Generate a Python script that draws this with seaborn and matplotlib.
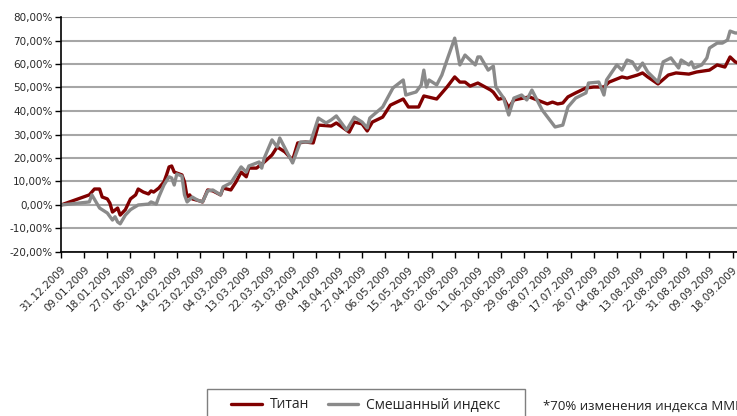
import pandas as pd
import matplotlib.pyplot as plt
import matplotlib.patches as mpatches
from matplotlib.ticker import FuncFormatter
import seaborn as sns

# days after 31.12.2008 and change in %
titan_days = [0, 11, 13, 15, 16, 18, 19, 20, 22, 23, 25, 27, 29, 30, 32, 34, 35, 36, 38, 40,
              41, 42, 43, 44, 46, 47, 48, 49, 50, 51, 54, 55, 57, 59, 62, 63, 66, 68, 70, 72,
              73, 76, 79, 82, 84, 87, 90, 92, 95, 98, 100, 105, 107, 112, 114, 117, 119, 121, 125, 128,
              133, 135, 139, 141, 146, 150, 153, 155, 157, 159, 162, 167, 168, 170, 172, 174, 176, 182, 185, 189,
              191, 193, 195, 197, 200, 204, 207, 211, 213, 218, 220, 224, 226, 228, 232, 236, 239, 244, 247, 252,
              255, 258, 260, 262, 263]
titan_vals = [0.0, 4.3, 6.8, 6.8, 3.4, 2.6, 0.8, -3.0, -1.3, -4.3, -2.0, 2.6, 4.3, 6.8, 5.5, 4.7, 6.0, 5.5, 7.2, 9.8,
              12.8, 16.2, 16.6, 14.0, 13.2, 12.8, 9.8, 3.4, 4.3, 2.6, 1.7, 1.3, 6.4, 6.0, 4.3, 7.2, 6.4, 9.8, 14.0, 12.0,
              15.7, 15.7, 18.3, 21.3, 24.7, 22.6, 19.1, 26.4, 26.8, 26.4, 34.0, 33.6, 34.9, 31.0, 35.3, 34.5, 31.5, 35.3, 37.4, 42.5,
              45.1, 41.7, 41.7, 46.4, 45.1, 50.2, 54.5, 52.3, 52.3, 50.6, 51.9, 48.9, 48.0, 45.0, 45.5, 41.3, 44.7, 46.0, 44.7, 43.0,
              43.8, 43.0, 43.4, 46.0, 47.7, 49.8, 50.2, 50.2, 52.3, 54.5, 54.0, 55.3, 56.2, 54.5, 51.5, 55.3, 56.2, 55.7, 56.6, 57.4,
              59.6, 58.7, 63.0, 60.9, 60.5]

index_days = [0, 11, 12, 15, 16, 18, 20, 21, 22, 23, 25, 27, 28, 30, 34, 35, 37, 38, 40, 42,
              43, 44, 45, 47, 48, 49, 51, 53, 55, 57, 59, 62, 63, 66, 70, 72, 73, 77, 78, 79,
              82, 84, 85, 86, 90, 93, 97, 100, 103, 105, 107, 111, 114, 117, 119, 120, 125, 129, 133, 134,
              138, 140, 141, 142, 143, 146, 148, 150, 153, 155, 157, 161, 162, 163, 166, 168, 169, 172, 174, 176,
              179, 181, 183, 187, 192, 195, 197, 200, 204, 205, 209, 211, 212, 216, 218, 220, 222, 224, 226, 228,
              232, 234, 237, 240, 241, 244, 245, 246, 249, 251, 252, 255, 257, 259, 260, 262, 263]
index_vals = [0.0, 1.3, 4.3, -1.3, -2.0, -3.4, -6.4, -5.0, -7.2, -8.0, -4.3, -2.0, -1.3, 0.0, 0.4, 1.3, 0.4, 3.4, 8.5, 12.0,
              11.5, 8.5, 13.2, 12.3, 4.3, 1.3, 3.4, 2.1, 1.3, 6.0, 6.4, 4.3, 7.7, 9.4, 16.2, 14.0, 16.6, 18.3, 15.7, 20.0,
              27.7, 24.7, 28.5, 26.4, 17.9, 26.8, 26.8, 37.0, 34.9, 36.2, 37.9, 31.9, 37.4, 35.3, 32.8, 37.0, 41.7, 49.8, 53.2, 46.8,
              48.1, 51.1, 57.4, 50.2, 53.2, 51.1, 55.3, 61.7, 71.0, 59.6, 63.8, 59.6, 63.0, 63.0, 57.4, 59.1, 50.2, 45.5, 38.3, 45.5,
              46.8, 44.7, 48.9, 40.4, 33.2, 34.0, 41.7, 45.5, 47.7, 51.9, 52.3, 46.8, 53.2, 59.6, 57.4, 61.7, 60.9, 57.4, 60.4, 56.6,
              52.3, 60.9, 62.6, 58.3, 61.7, 59.6, 60.9, 58.3, 59.6, 62.6, 66.8, 68.9, 68.9, 70.2, 74.0, 73.2, 73.2]

tick_labels = ["31.12.2009", "09.01.2009", "18.01.2009", "27.01.2009", "05.02.2009", "14.02.2009",
               "23.02.2009", "04.03.2009", "13.03.2009", "22.03.2009", "31.03.2009", "09.04.2009",
               "18.04.2009", "27.04.2009", "06.05.2009", "15.05.2009", "24.05.2009", "02.06.2009",
               "11.06.2009", "20.06.2009", "29.06.2009", "08.07.2009", "17.07.2009", "26.07.2009",
               "04.08.2009", "13.08.2009", "22.08.2009", "31.08.2009", "09.09.2009", "18.09.2009"]

start = pd.Timestamp("2008-12-31")
titan = pd.DataFrame({"date": start + pd.to_timedelta(titan_days, unit="D"), "val": titan_vals})
index = pd.DataFrame({"date": start + pd.to_timedelta(index_days, unit="D"), "val": index_vals})

sns.set_theme(style="white")
plt.rcParams["font.family"] = ["DejaVu Sans"]

fig = plt.figure(figsize=(7.37, 4.16), dpi=100)
ax = fig.add_axes([61 / 737, 1 - 252 / 416, 676 / 737, 235 / 416])

sns.lineplot(data=titan, x="date", y="val", ax=ax, color="#800000", linewidth=2.4, label="Титан")
sns.lineplot(data=index, x="date", y="val", ax=ax, color="#8a8a8a", linewidth=2.4, label="Смешанный индекс")

ax.set_ylim(-20, 80)
ax.set_yticks(range(-20, 81, 10))
ax.yaxis.set_major_formatter(FuncFormatter(lambda v, p: f"{v:.2f}%".replace(".", ",")))
ax.set_xlim(start, start + pd.Timedelta(days=262.7))
ticks = pd.date_range(start, periods=len(tick_labels), freq="9D")
ax.set_xticks(ticks)
ax.set_xticklabels(tick_labels, rotation=45, ha="right", va="top", rotation_mode="anchor")
ax.set_xlabel("")
ax.set_ylabel("")

ax.grid(axis="y", color="#a6a6a6", linewidth=1.5)
ax.set_axisbelow(True)
for s in ["top", "right"]:
    ax.spines[s].set_visible(False)
for s in ["left", "bottom"]:
    ax.spines[s].set_color("black")
    ax.spines[s].set_linewidth(1.2)
ax.tick_params(axis="both", direction="out", length=4, width=1, color="black",
               labelsize=7.5, labelcolor="#2a2a2a", left=True, bottom=True, pad=2)
ax.tick_params(axis="x", pad=5)

handles, labels = ax.get_legend_handles_labels()
ax.get_legend().remove()
fig.legend(handles, labels, loc="center", bbox_to_anchor=(366 / 737, 1 - 405 / 416), ncol=2,
           frameon=False, handlelength=2.2, columnspacing=1.3, handletextpad=0.6,
           prop={"family": "Open Sans", "size": 10})
fig.patches.append(mpatches.Rectangle((207 / 737, -0.05), 318 / 737, 0.05 + 1 - 389 / 416,
                                      transform=fig.transFigure, fill=False,
                                      edgecolor="#7f7f7f", linewidth=1))
fig.text(543 / 737, 1 - 406 / 416, "*70% изменения индекса ММВБ", ha="left", va="center",
         fontsize=9.5, family="Open Sans", color="#222222")

fig.savefig("out.png", dpi=100)
